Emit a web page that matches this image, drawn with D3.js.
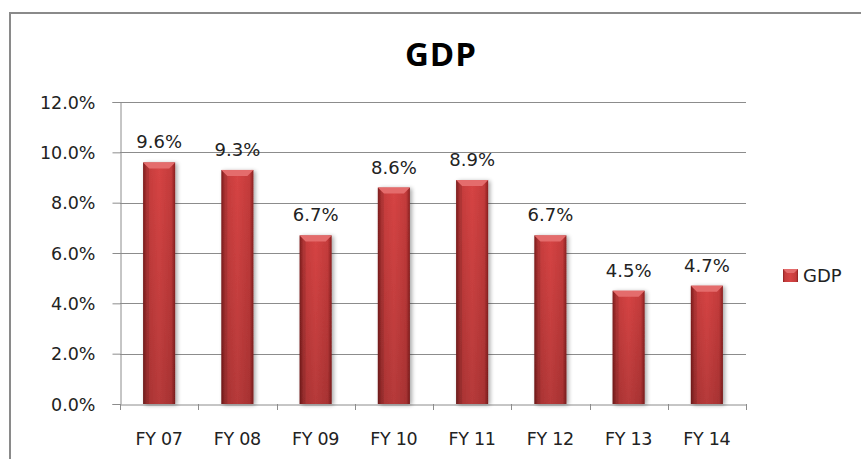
<!DOCTYPE html>
<html><head><meta charset="utf-8">
<script src="https://cdn.jsdelivr.net/npm/d3@7"></script>
<style>body{margin:0;background:#fff;}svg{display:block;}</style>
</head><body>
<script>
const categories = ["FY 07","FY 08","FY 09","FY 10","FY 11","FY 12","FY 13","FY 14"];
const gdpValues = [9.6, 9.3, 6.7, 8.6, 8.9, 6.7, 4.5, 4.7];
const yTicks = [0, 2, 4, 6, 8, 10, 12];
const seriesName = "GDP";

(function(){
const W = 861, H = 459;
const FONT = "'DejaVu Sans', Verdana, sans-serif";
const svg = d3.select("body").append("svg").attr("width", W).attr("height", H);
const defs = svg.append("defs");
const g1 = defs.append("linearGradient").attr("id","barGrad").attr("x1","0").attr("x2","1").attr("y1","0").attr("y2","0");
g1.append("stop").attr("offset","0").attr("stop-color","#8a2020");
g1.append("stop").attr("offset","0.12").attr("stop-color","#c43b3b");
g1.append("stop").attr("offset","0.5").attr("stop-color","#d64444");
g1.append("stop").attr("offset","0.88").attr("stop-color","#c43b3b");
g1.append("stop").attr("offset","1").attr("stop-color","#8a2020");
const g2 = defs.append("linearGradient").attr("id","shadeGrad").attr("x1","0").attr("x2","0").attr("y1","0").attr("y2","1");
g2.append("stop").attr("offset","0").attr("stop-color","#000").attr("stop-opacity",0);
g2.append("stop").attr("offset","1").attr("stop-color","#000").attr("stop-opacity",0.15);
const f = defs.append("filter").attr("id","shadow").attr("x","-30%").attr("y","-10%").attr("width","170%").attr("height","130%");
f.append("feGaussianBlur").attr("in","SourceAlpha").attr("stdDeviation",2).attr("result","b");
f.append("feOffset").attr("in","b").attr("dx",2).attr("dy",1).attr("result","o");
f.append("feComponentTransfer").attr("in","o").attr("result","o2").append("feFuncA").attr("type","linear").attr("slope",0.35);
const fm = f.append("feMerge"); fm.append("feMergeNode").attr("in","o2"); fm.append("feMergeNode").attr("in","SourceGraphic");

svg.append("rect").attr("x",10).attr("y",13).attr("width",W+20).attr("height",H+20)
  .attr("fill","none").attr("stroke","#8a8a8a").attr("stroke-width",2);

const pl = 120, pr = 746, pt = 102, pb = 404;
const x = d3.scaleBand().domain(categories).range([pl, pr]).paddingInner(0.59).paddingOuter(0.295);
const y = d3.scaleLinear().domain([0, 12]).range([pb, pt]);

svg.append("text").attr("x",441).attr("y",66).attr("text-anchor","middle")
  .attr("font-family","'Open Sans', 'Liberation Sans', sans-serif").attr("font-weight","bold")
  .attr("font-size",33).attr("letter-spacing",1).attr("fill","#000").text("GDP");

svg.append("g").selectAll("line").data(yTicks.filter(d=>d>0)).join("line")
  .attr("x1",pl).attr("x2",pr).attr("y1",d=>Math.round(y(d))+0.5).attr("y2",d=>Math.round(y(d))+0.5)
  .attr("stroke","#8c8c8c").attr("stroke-width",1);

const yAxis = svg.append("g").attr("transform",`translate(${pl+0.5},0)`)
  .call(d3.axisLeft(y).tickValues(yTicks).tickSize(8).tickFormat(d=>d.toFixed(1)+"%"));
yAxis.select(".domain").attr("stroke","#8c8c8c");
yAxis.selectAll(".tick line").attr("stroke","#8c8c8c");
yAxis.selectAll(".tick text").attr("font-family",FONT).attr("font-size",17.5).attr("fill","#222").attr("x",-25).attr("dy","0.36em");

const xAxis = svg.append("g").attr("transform",`translate(0,${pb+0.5})`)
  .call(d3.axisBottom(x).tickSize(0).tickSizeOuter(0));
xAxis.select(".domain").attr("stroke","#8c8c8c");
xAxis.selectAll(".tick text").attr("font-family",FONT).attr("font-size",17.5).attr("fill","#222")
  .attr("dy",0).attr("y",40).attr("letter-spacing","-0.3");
const bounds = categories.map(c => x(c) - x.step()*x.paddingInner()/2);
bounds.push(pr);
svg.append("g").selectAll("line").data(bounds).join("line")
  .attr("x1",d=>Math.round(d)+0.5).attr("x2",d=>Math.round(d)+0.5).attr("y1",pb).attr("y2",pb+6)
  .attr("stroke","#8c8c8c");

const bars = svg.append("g").selectAll("g").data(gdpValues).join("g").attr("filter","url(#shadow)");
bars.append("rect").attr("x",(d,i)=>x(categories[i])).attr("width",x.bandwidth())
  .attr("y",d=>y(d)).attr("height",d=>pb-y(d)).attr("fill","url(#barGrad)");
bars.append("rect").attr("x",(d,i)=>x(categories[i])).attr("width",x.bandwidth())
  .attr("y",d=>y(d)).attr("height",d=>pb-y(d)).attr("fill","url(#shadeGrad)");
bars.append("path").attr("d",(d,i)=>{
  const x0 = x(categories[i]), w = x.bandwidth(), t = y(d), b = 6;
  return `M${x0},${t}L${x0+w},${t}L${x0+w-b},${t+b}L${x0+b},${t+b}Z`;
}).attr("fill","#e46c6c");
bars.append("path").attr("d",(d,i)=>{
  const x0 = x(categories[i]), t = y(d), b = 6;
  return `M${x0},${t}L${x0+b},${t+b}L${x0+b},${pb}L${x0},${pb}Z`;
}).attr("fill","#000").attr("opacity",0.1);

svg.append("g").selectAll("text").data(gdpValues).join("text")
  .attr("x",(d,i)=>x(categories[i])+x.bandwidth()/2).attr("y",d=>y(d)-14)
  .attr("text-anchor","middle").attr("font-family",FONT).attr("font-size",18).attr("fill","#222")
  .text(d=>d.toFixed(1)+"%");

const lg = svg.append("g").attr("transform","translate(783,269)");
lg.append("rect").attr("width",15).attr("height",13).attr("fill","url(#barGrad)");
lg.append("path").attr("d","M0,0L15,0L11,4L4,4Z").attr("fill","#e46c6c");
lg.append("text").attr("x",20).attr("y",13).attr("font-family",FONT).attr("font-size",18).attr("fill","#222").text(seriesName);
})();
</script>
</body></html>
